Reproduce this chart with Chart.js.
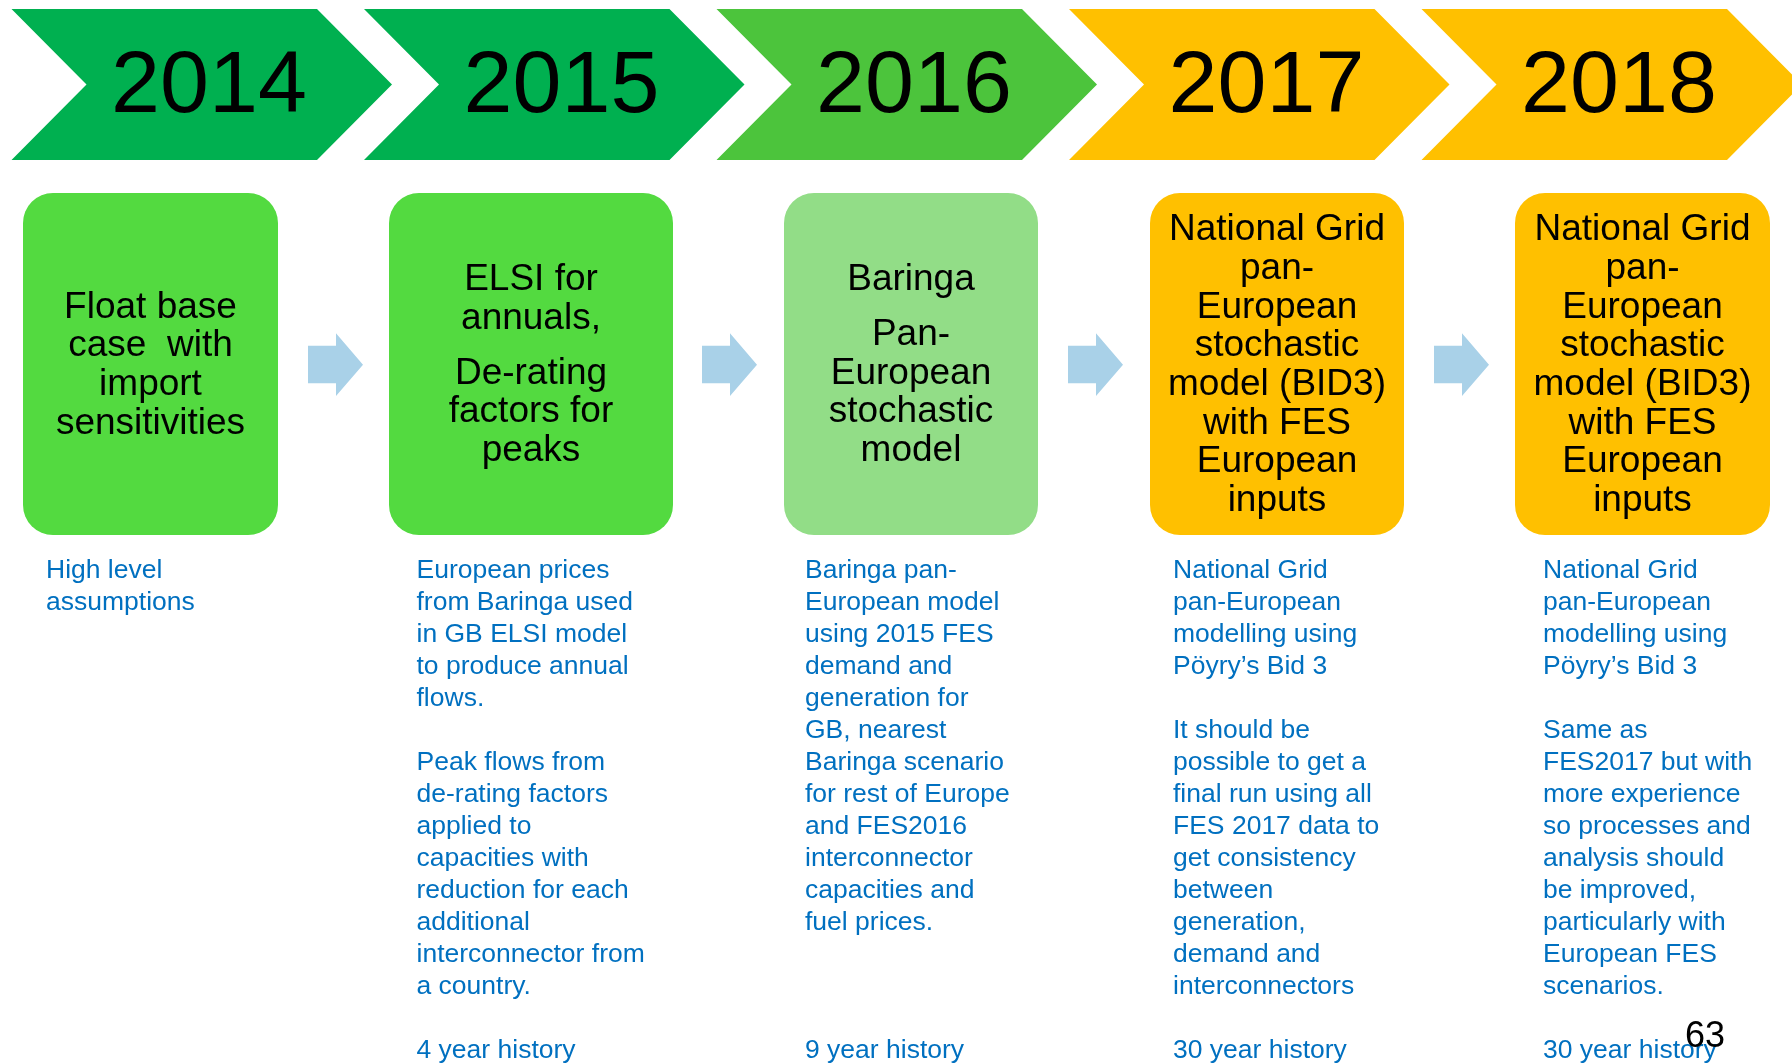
<!DOCTYPE html>
<html lang="en">
<head>
  <meta charset="UTF-8" />
  <title>Interconnector modelling timeline</title>
  <script src="https://cdn.jsdelivr.net/npm/chart.js"></script>
  <style>
    html, body { margin: 0; padding: 0; background: #ffffff; }
    .wrap { position: relative; width: 1792px; height: 1063px; }
  </style>
</head>
<body>
  <div class="wrap"><canvas id="timeline"></canvas></div>

  <script>
    // --- data ---
    const years = ['2014', '2015', '2016', '2017', '2018'];

    const boxTexts = [
      [['Float base', 'case  with', 'import', 'sensitivities']],
      [['ELSI for', 'annuals,'], ['De-rating', 'factors for', 'peaks']],
      [['Baringa'], ['Pan-', 'European', 'stochastic', 'model']],
      [['National Grid', 'pan-', 'European', 'stochastic', 'model (BID3)', 'with FES', 'European', 'inputs']],
      [['National Grid', 'pan-', 'European', 'stochastic', 'model (BID3)', 'with FES', 'European', 'inputs']]
    ];

    const notes2014 = ['High level', 'assumptions'];
    const notes2015 = ['European prices', 'from Baringa used', 'in GB ELSI model', 'to produce annual', 'flows.', '',
      'Peak flows from', 'de-rating factors', 'applied to', 'capacities with', 'reduction for each', 'additional',
      'interconnector from', 'a country.', '', '4 year history'];
    const notes2016 = ['Baringa pan-', 'European model', 'using 2015 FES', 'demand and', 'generation for', 'GB, nearest',
      'Baringa scenario', 'for rest of Europe', 'and FES2016', 'interconnector', 'capacities and', 'fuel prices.',
      '', '', '', '9 year history'];
    const notes2017 = ['National Grid', 'pan-European', 'modelling using', 'Pöyry’s Bid 3', '',
      'It should be', 'possible to get a', 'final run using all', 'FES 2017 data to', 'get consistency', 'between',
      'generation,', 'demand and', 'interconnectors', '', '30 year history'];
    const notes2018 = ['National Grid', 'pan-European', 'modelling using', 'Pöyry’s Bid 3', '',
      'Same as', 'FES2017 but with', 'more experience', 'so processes and', 'analysis should', 'be improved,',
      'particularly with', 'European FES', 'scenarios.', '', '30 year history'];
    const notes = [notes2014, notes2015, notes2016, notes2017, notes2018];

    const pageNumber = '63';

    // --- styles ---
    const chevronColours = ['#00B050', '#00B050', '#4CC43C', '#FFC000', '#FFC000'];
    const boxColours = ['#53DA40', '#53DA40', '#92DD87', '#FFC000', '#FFC000'];
    const arrowColour = '#A9D1E8';
    const noteColour = '#0070C0';
    const FONT = "'Liberation Sans', Arial, sans-serif";

    // --- layout (page units, 1792 x 1063) ---
    const layout = {
      chevron: { left0: 11.5, step: 352.5, top: 9, bottom: 160, notch: 75, body: 305.5, textX: 197.5, textBase: 111.5 },
      boxLeft:  [23, 389, 784, 1150, 1515],
      boxRight: [278, 673, 1038, 1404, 1770],
      boxTop: 193, boxBottom: 535, boxRadius: 30, boxMid: 365.5,
      boxLine: 38.7, boxGap: 16,
      arrowX: [308, 702, 1068, 1434], arrowShaft: 28, arrowHead: 27,
      arrowTop: 345.7, arrowBottom: 383.3, headTop: 333.3, headBottom: 396,
      noteX: [46, 416.5, 805, 1173, 1543], noteBase: 577.5, noteLine: 32
    };

    const drawDiagram = {
      id: 'drawDiagram',
      afterDraw(chart) {
        const ctx = chart.ctx;
        const X = v => chart.scales.x.getPixelForValue(v);
        const Y = v => chart.scales.y.getPixelForValue(v);
        const c = layout.chevron;
        ctx.save();

        // chevrons with years
        years.forEach((yr, i) => {
          const l = c.left0 + c.step * i;
          const mid = (c.top + c.bottom) / 2;
          ctx.beginPath();
          ctx.moveTo(X(l), Y(c.top));
          ctx.lineTo(X(l + c.body), Y(c.top));
          ctx.lineTo(X(l + c.body + c.notch), Y(mid));
          ctx.lineTo(X(l + c.body), Y(c.bottom));
          ctx.lineTo(X(l), Y(c.bottom));
          ctx.lineTo(X(l + c.notch), Y(mid));
          ctx.closePath();
          ctx.fillStyle = chevronColours[i];
          ctx.fill();

          ctx.fillStyle = '#000000';
          ctx.font = '88px ' + FONT;
          ctx.textAlign = 'center';
          ctx.textBaseline = 'alphabetic';
          ctx.fillText(yr, X(l + c.textX), Y(c.textBase));
        });

        // rounded boxes
        boxTexts.forEach((paras, i) => {
          const x0 = X(layout.boxLeft[i]), x1 = X(layout.boxRight[i]);
          const y0 = Y(layout.boxTop), y1 = Y(layout.boxBottom);
          ctx.beginPath();
          ctx.roundRect(x0, y0, x1 - x0, y1 - y0, layout.boxRadius);
          ctx.fillStyle = boxColours[i];
          ctx.fill();

          const nLines = paras.reduce((s, p) => s + p.length, 0);
          const total = (nLines - 1) * layout.boxLine + (paras.length - 1) * layout.boxGap;
          let y = layout.boxMid - total / 2;
          ctx.fillStyle = '#000000';
          ctx.font = '37px ' + FONT;
          ctx.textAlign = 'center';
          ctx.textBaseline = 'middle';
          const cx = (x0 + x1) / 2;
          paras.forEach(p => {
            p.forEach(line => {
              ctx.fillText(line, cx, Y(y));
              y += layout.boxLine;
            });
            y += layout.boxGap;
          });
        });

        // arrows between boxes
        ctx.fillStyle = arrowColour;
        layout.arrowX.forEach(ax => {
          const hb = ax + layout.arrowShaft, tip = hb + layout.arrowHead;
          const mid = (layout.headTop + layout.headBottom) / 2;
          ctx.beginPath();
          ctx.moveTo(X(ax), Y(layout.arrowTop));
          ctx.lineTo(X(hb), Y(layout.arrowTop));
          ctx.lineTo(X(hb), Y(layout.headTop));
          ctx.lineTo(X(tip), Y(mid));
          ctx.lineTo(X(hb), Y(layout.headBottom));
          ctx.lineTo(X(hb), Y(layout.arrowBottom));
          ctx.lineTo(X(ax), Y(layout.arrowBottom));
          ctx.closePath();
          ctx.fill();
        });

        // notes under each box
        ctx.fillStyle = noteColour;
        ctx.font = '26.5px ' + FONT;
        ctx.textAlign = 'left';
        ctx.textBaseline = 'alphabetic';
        notes.forEach((lines, i) => {
          lines.forEach((line, k) => {
            if (line) ctx.fillText(line, X(layout.noteX[i]), Y(layout.noteBase + k * layout.noteLine));
          });
        });

        // page number
        ctx.fillStyle = '#000000';
        ctx.font = '36px ' + FONT;
        ctx.textAlign = 'center';
        ctx.fillText(pageNumber, X(1705), Y(1046.5));

        ctx.restore();
      }
    };

    new Chart(document.getElementById('timeline'), {
      type: 'scatter',
      data: { datasets: [{ data: [], pointRadius: 0 }] },
      options: {
        responsive: true,
        maintainAspectRatio: false,
        animation: false,
        layout: { padding: 0 },
        scales: {
          x: { type: 'linear', min: 0, max: 1792, display: false },
          y: { type: 'linear', min: 0, max: 1063, reverse: true, display: false }
        },
        plugins: { legend: { display: false }, tooltip: { enabled: false } }
      },
      plugins: [drawDiagram]
    });
  </script>
</body>
</html>
